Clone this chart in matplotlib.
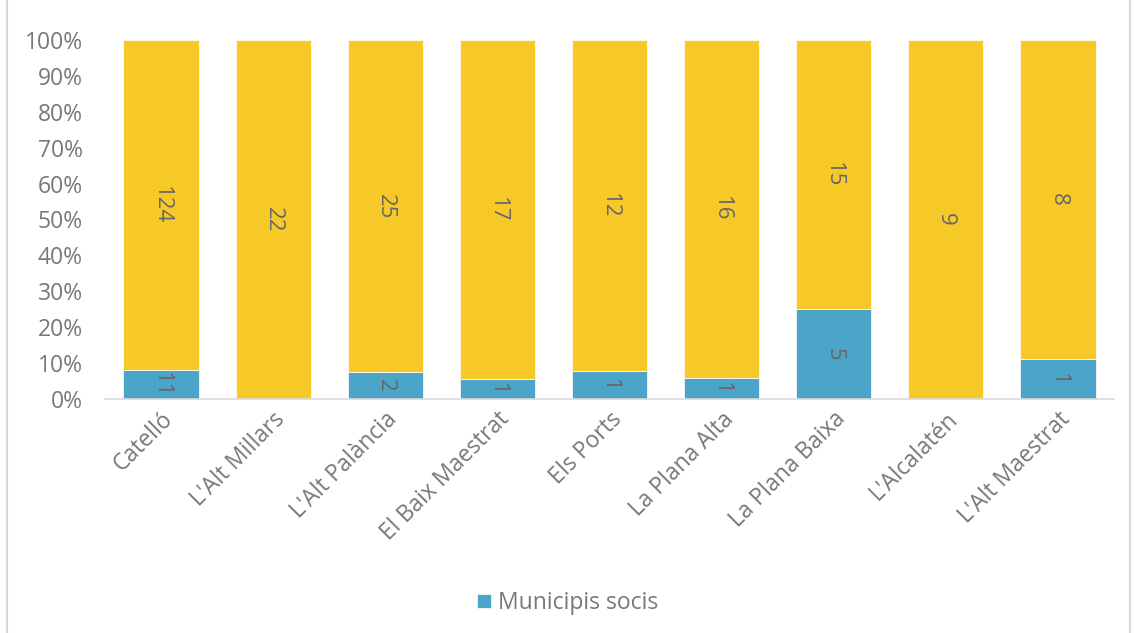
import matplotlib.pyplot as plt
import numpy as np
from matplotlib.patches import Rectangle

plt.rcParams['font.family'] = ['Open Sans', 'DejaVu Sans']

comarques = ["Catelló", "L'Alt Millars", "L'Alt Palància", "El Baix Maestrat", "Els Ports",
             "La Plana Alta", "La Plana Baixa", "L'Alcalatén", "L'Alt Maestrat"]
socis = [11, 0, 2, 1, 1, 1, 5, 0, 1]
no_socis = [124, 22, 25, 17, 12, 16, 15, 9, 8]

blue = '#4BA5C8'
yellow = '#F6C928'
text_col = '#787878'

socis = np.array(socis, dtype=float)
no_socis = np.array(no_socis, dtype=float)
total = socis + no_socis
p_socis = socis / total
p_no = no_socis / total

fig = plt.figure(figsize=(11.35, 6.33), dpi=100)
ax = fig.add_axes([0.0925, 0.3697, 0.889, 0.5671])

x = np.arange(len(comarques))
w = 0.67
b1 = ax.bar(x, p_socis, w, color=blue, label='Municipis socis', edgecolor='white', linewidth=0.5)
b2 = ax.bar(x, p_no, w, bottom=p_socis, color=yellow, edgecolor='white', linewidth=0.5)

# etiquetes de valor dins de cada segment
for i in range(len(x)):
    if socis[i] > 0:
        ax.text(x[i], p_socis[i] / 2, f"{int(socis[i])}", rotation=-90, ha='center', va='center',
                fontsize=16, color='#666666')
    ax.text(x[i], p_socis[i] + p_no[i] / 2, f"{int(no_socis[i])}", rotation=-90, ha='center',
            va='center', fontsize=16, color='#666666')

ax.set_xlim(-0.5, len(x) - 0.5)
ax.set_ylim(0, 1)
ax.set_yticks(np.arange(0, 1.01, 0.1))
ax.set_yticklabels([f"{int(round(v * 100))}%" for v in np.arange(0, 1.01, 0.1)])
ax.set_xticks(x)
ax.set_xticklabels(comarques, rotation=45, ha='right', rotation_mode='anchor')
ax.tick_params(axis='both', length=0, labelsize=16.5, colors=text_col)
ax.tick_params(axis='y', pad=16)
ax.tick_params(axis='x', pad=6)

for s in ['top', 'right', 'left']:
    ax.spines[s].set_visible(False)
ax.spines['bottom'].set_color('#D9D9D9')
ax.spines['bottom'].set_linewidth(1.2)

leg = fig.legend(handles=[b1], labels=['Municipis socis'], loc='center', bbox_to_anchor=(0.5, 0.047),
                 frameon=False, fontsize=16.5, handlelength=0.6, handleheight=0.6, handletextpad=0.3)
for t in leg.get_texts():
    t.set_color(text_col)

fig.patches.append(Rectangle((0.006, -0.01), 0.99, 1.02, transform=fig.transFigure, fill=False,
                             edgecolor='#D9D9D9', linewidth=1.5))

fig.savefig('out.png', dpi=100)
